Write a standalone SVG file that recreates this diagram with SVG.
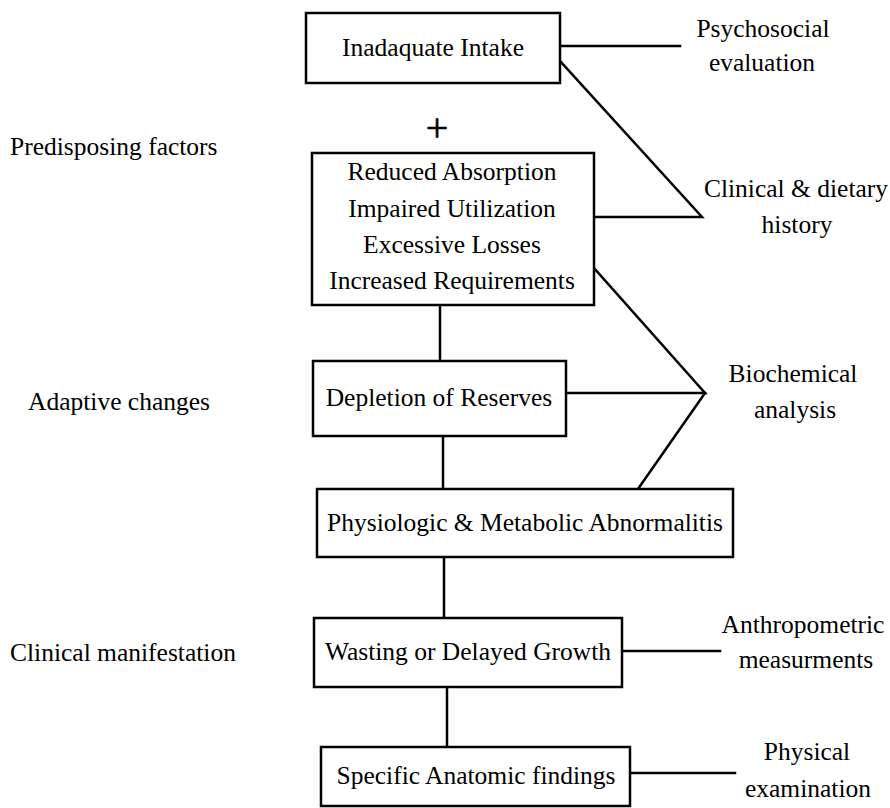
<svg xmlns="http://www.w3.org/2000/svg" width="890" height="808" viewBox="0 0 890 808">
<style>
.box{fill:#fff;stroke:#000;stroke-width:2.5}
.ln{fill:none;stroke:#000;stroke-width:2.5;stroke-linecap:square}
text{font-family:"Liberation Serif","Times New Roman",serif;font-size:25.5px;fill:#000}
.c{text-anchor:middle}
</style>
<rect width="890" height="808" fill="#fff"/>
<g id="connectors">
<line class="ln" x1="560" y1="46" x2="680" y2="46"/>
<polyline class="ln" points="561,62 702,217 594,217"/>
<line class="ln" x1="440" y1="305" x2="440" y2="361"/>
<polyline class="ln" points="594,268 705,393 566,393"/>
<line class="ln" x1="705" y1="393" x2="638" y2="489"/>
<line class="ln" x1="443" y1="436" x2="443" y2="489"/>
<line class="ln" x1="444" y1="557" x2="444" y2="618"/>
<line class="ln" x1="622" y1="651" x2="720" y2="651"/>
<line class="ln" x1="447" y1="687" x2="447" y2="747"/>
<line class="ln" x1="630" y1="773" x2="735" y2="773"/>
</g>
<g id="n1"><rect class="box" x="306" y="13" width="254" height="70"/><text class="c" x="433" y="56">Inadaquate Intake</text></g>
<g id="plus"><text class="c" x="437" y="141" style="font-size:40px;stroke:#000;stroke-width:0.6">+</text></g>
<g id="n2"><rect class="box" x="312" y="153" width="282" height="152"/>
<text class="c" x="452" y="180">Reduced Absorption</text>
<text class="c" x="452" y="217">Impaired Utilization</text>
<text class="c" x="452" y="253">Excessive Losses</text>
<text class="c" x="452" y="289">Increased Requirements</text></g>
<g id="n3"><rect class="box" x="313" y="361" width="253" height="75"/><text class="c" x="439" y="406">Depletion of Reserves</text></g>
<g id="n4"><rect class="box" x="317" y="489" width="416" height="68"/><text class="c" x="525" y="531">Physiologic &amp; Metabolic Abnormalitis</text></g>
<g id="n5"><rect class="box" x="314" y="618" width="308" height="69"/><text class="c" x="468" y="660">Wasting or Delayed Growth</text></g>
<g id="n6"><rect class="box" x="321" y="747" width="309" height="59"/><text class="c" x="476" y="784">Specific Anatomic findings</text></g>
<g id="l1"><text x="10" y="155">Predisposing factors</text></g>
<g id="l2"><text x="28" y="410">Adaptive changes</text></g>
<g id="l3"><text x="10" y="661">Clinical manifestation</text></g>
<g id="r1"><text class="c" x="763" y="37">Psychosocial</text><text class="c" x="762" y="71">evaluation</text></g>
<g id="r2"><text class="c" x="796" y="197">Clinical &amp; dietary</text><text class="c" x="797" y="233">history</text></g>
<g id="r3"><text class="c" x="793" y="382">Biochemical</text><text class="c" x="795" y="418">analysis</text></g>
<g id="r4"><text class="c" x="803" y="633">Anthropometric</text><text class="c" x="806" y="668">measurments</text></g>
<g id="r5"><text class="c" x="807" y="760">Physical</text><text class="c" x="808" y="797">examination</text></g>
</svg>
